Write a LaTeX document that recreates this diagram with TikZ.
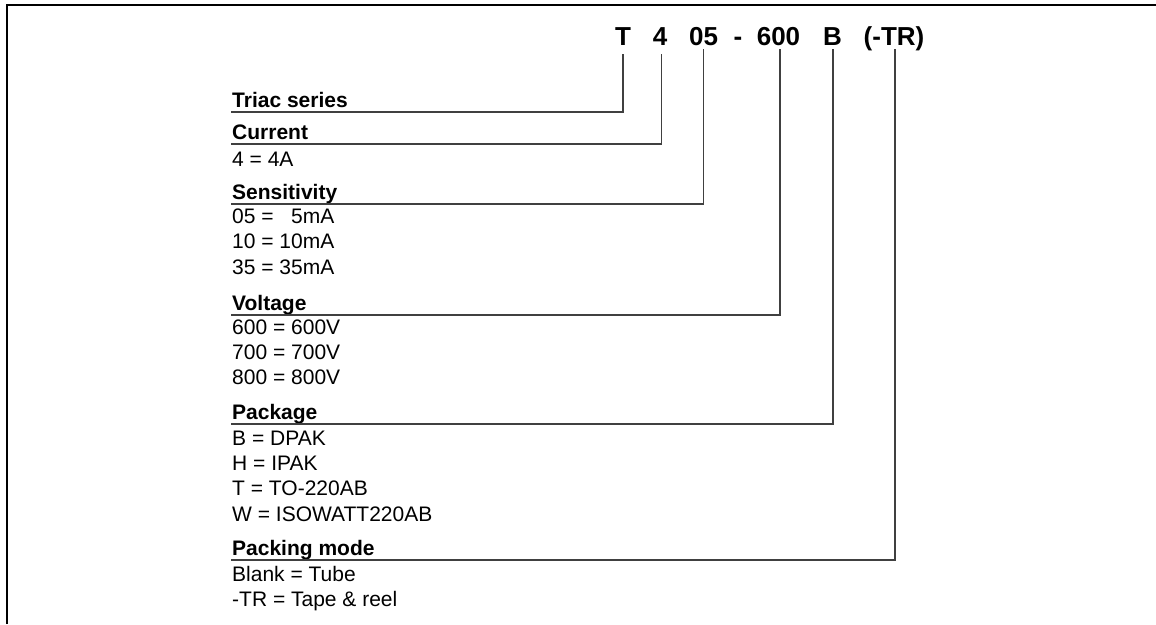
\documentclass[tikz,border=0pt]{standalone}
\usepackage{fontspec}
\setmainfont{Liberation Sans}
\begin{document}
\begin{tikzpicture}[x=1pt,y=-1pt,
  code/.style={font=\fontsize{26}{30}\selectfont\bfseries, inner sep=0pt, anchor=base},
  head/.style={font=\fontsize{21}{24}\selectfont\bfseries, inner sep=0pt, anchor=base west},
  val/.style={font=\fontsize{21}{24}\selectfont, inner sep=0pt, anchor=base west},
  lead/.style={draw=black!75, line width=1.2pt},
  frame/.style={draw=black, line width=2pt}]
\useasboundingbox (0,0) rectangle (1156,624);
% frame
\coordinate (fa) at (7,624);
\coordinate (fb) at (7,5);
\coordinate (fc) at (1156,5);
\draw[frame] (fa) -- (fb) -- (fc);
% part number
\node[code] (cT) at (623,45) {T};
\node[code] (c4) at (660,45) {4};
\node[code] (c05) at (703.5,45) {05};
\node[code] (cdash) at (738,45) {-};
\node[code] (c600) at (778.5,45) {600};
\node[code] (cB) at (832.5,45) {B};
\node[code] (cTR) at (894,45) {(-TR)};
% underline ends
\coordinate (uT) at (231,112);
\coordinate (u4) at (231,144);
\coordinate (u05) at (231,204);
\coordinate (u600) at (231,315);
\coordinate (uB) at (231,424);
\coordinate (uTR) at (231,560);
% headers and values
\node[head] (hT) at (232,107) {Triac series};
\node[head] (h4) at (232,139) {Current};
\node[val] (v4a) at (232,166) {4 = 4A};
\node[head] (h05) at (232,199) {Sensitivity};
\node[val] (v05a) at (232,223) {05 = \phantom{1}5mA};
\node[val] (v05b) at (232,248.5) {10 = 10mA};
\node[val] (v05c) at (232,274) {35 = 35mA};
\node[head] (h600) at (232,310) {Voltage};
\node[val] (v600a) at (232,334) {600 = 600V};
\node[val] (v600b) at (232,359) {700 = 700V};
\node[val] (v600c) at (232,384) {800 = 800V};
\node[head] (hB) at (232,419) {Package};
\node[val] (vBa) at (232,445) {B = DPAK};
\node[val] (vBb) at (232,470) {H = IPAK};
\node[val] (vBc) at (232,495.5) {T = TO-220AB};
\node[val] (vBd) at (232,521) {W = ISOWATT220AB};
\node[head] (hTR) at (232,555) {Packing mode};
\node[val] (vTRa) at (232,581) {Blank = Tube};
\node[val] (vTRb) at (232,606) {-TR = Tape \& reel};
% leaders
\draw[lead] ([yshift=-9pt]cT.base) |- (uT);
\draw[lead] ([xshift=1.7pt,yshift=-9pt]c4.base) |- (u4);
\draw[lead] ([yshift=-4pt]c05.base) |- (u05);
\draw[lead] ([xshift=1.5pt,yshift=-4pt]c600.base) |- (u600);
\draw[lead] ([xshift=0.5pt,yshift=-4pt]cB.base) |- (uB);
\draw[lead] ([xshift=1pt,yshift=-4pt]cTR.base) |- (uTR);
\end{tikzpicture}
\end{document}
